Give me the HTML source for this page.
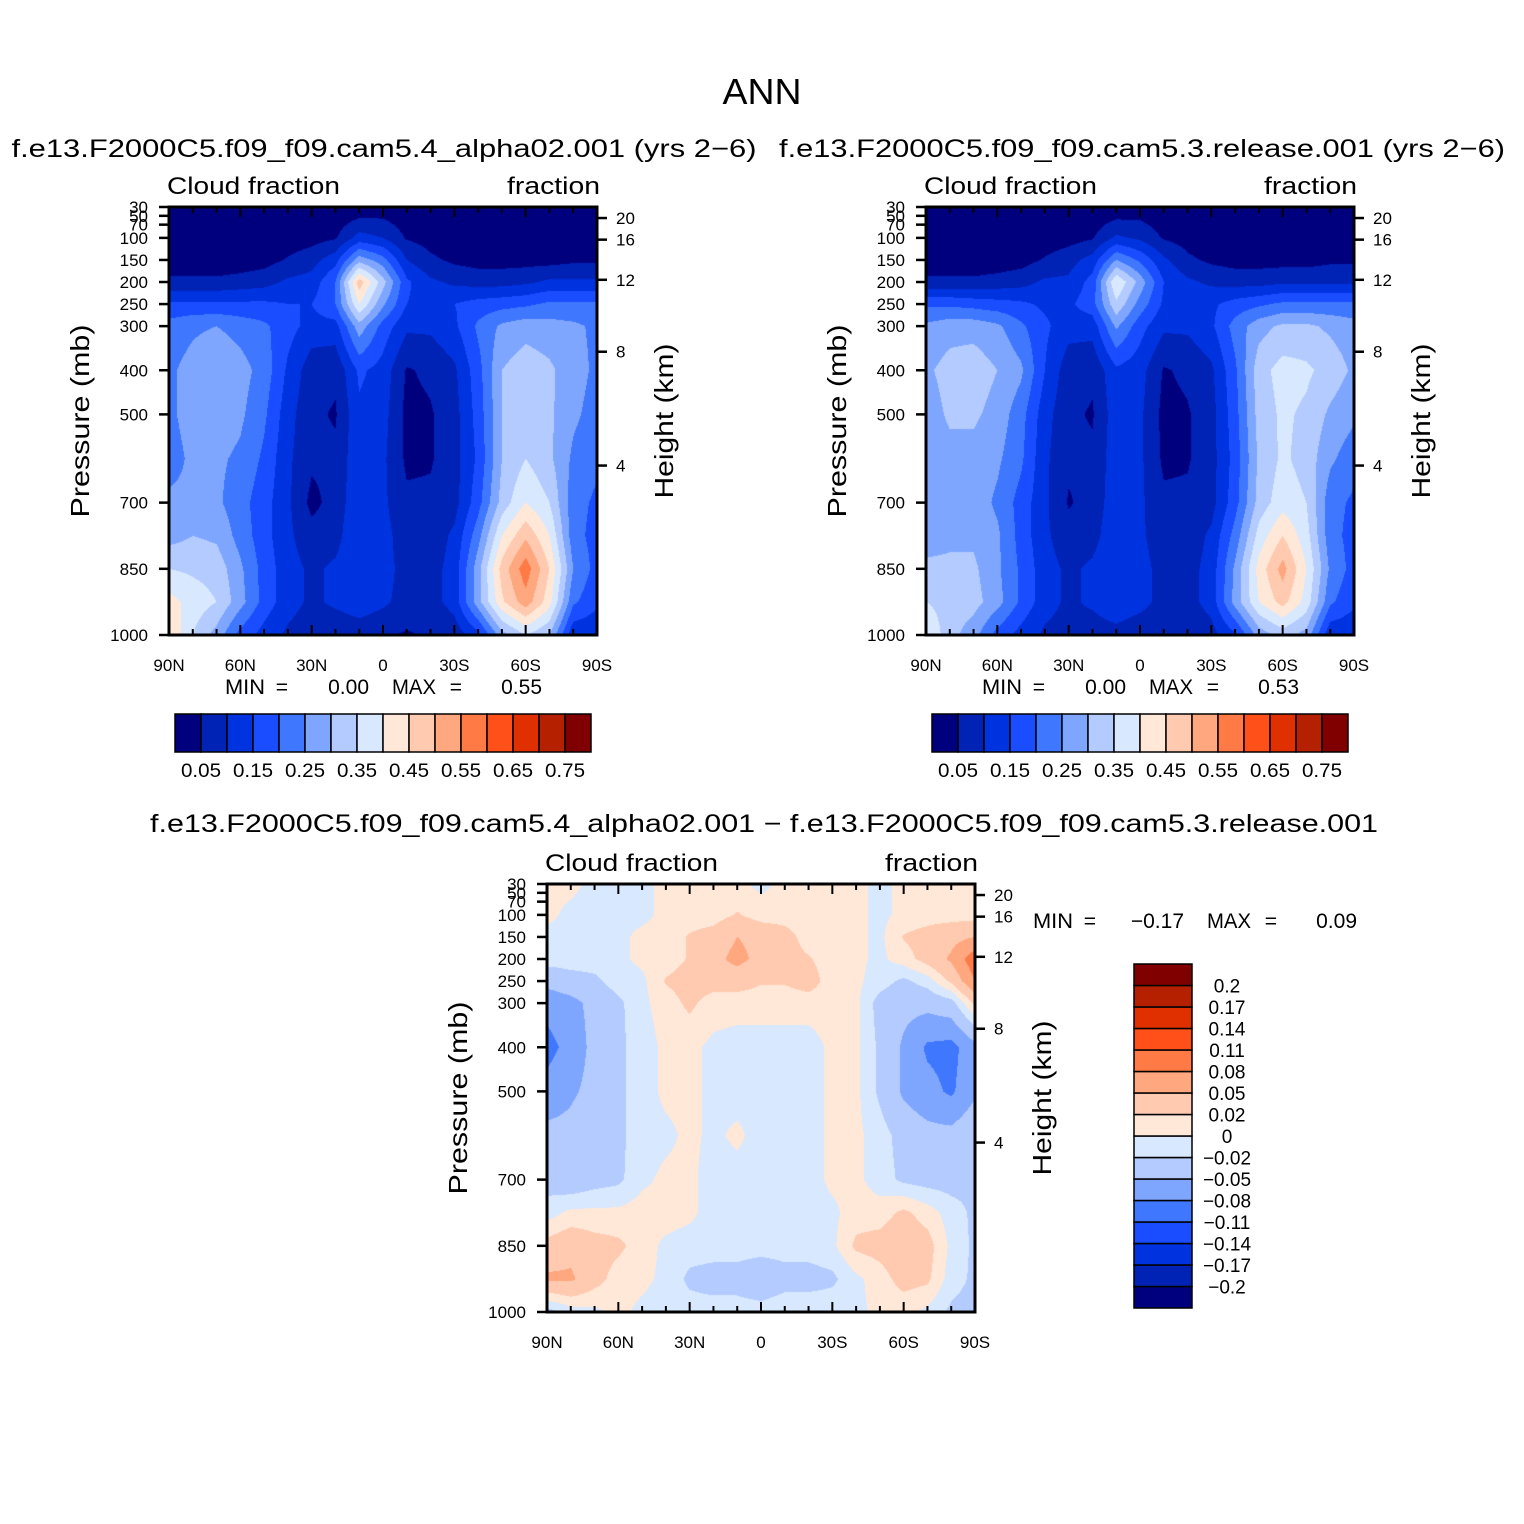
<!DOCTYPE html>
<html><head><meta charset="utf-8"><style>
html,body{margin:0;padding:0;background:#fff;}
#wrap{position:relative;width:1524px;height:1524px;overflow:hidden;font-family:"Liberation Sans",sans-serif;}
canvas{position:absolute;}
svg{position:absolute;left:0;top:0;}
</style></head><body>
<div id="wrap">
<canvas id="c1" width="428" height="428" style="left:169px;top:207px"></canvas>
<canvas id="c2" width="428" height="428" style="left:926px;top:207px"></canvas>
<canvas id="c3" width="428" height="428" style="left:547px;top:884px"></canvas>
<svg id="ov" width="1524" height="1524"></svg>
</div>
<script>
const lats=[90,80,70,60,50,40,30,20,10,0,-10,-20,-30,-40,-50,-60,-70,-80,-90];
const pres=[30,100,150,200,250,300,400,500,600,700,775,850,925,1000];
const cloudLevels=[0.05,0.1,0.15,0.2,0.25,0.3,0.35,0.4,0.45,0.5,0.55,0.6,0.65,0.7,0.75];
const cloudLabels=["0.05","0.15","0.25","0.35","0.45","0.55","0.65","0.75"];
const diffLevels=[-0.2,-0.17,-0.14,-0.11,-0.08,-0.05,-0.02,0,0.02,0.05,0.08,0.11,0.14,0.17,0.2];
const diffLabels=["-0.2","-0.17","-0.14","-0.11","-0.08","-0.05","-0.02","0","0.02","0.05","0.08","0.11","0.14","0.17","0.2"];
const colors=["#00007f","#0022b5","#0033e0","#1a4dff","#4077ff","#7fa6ff","#b3cbff","#d8e8ff","#ffe8d8","#ffcab0","#ffa77f","#ff7a45","#ff501a","#e03000","#b52000","#800000"];
const pressureTicks=[30,50,70,100,150,200,250,300,400,500,700,850,1000];
const heightTicks=[20,16,12,8,4];
const heightTickPres=[55,104,195,358,616];
const cloudA=[
[.01,.01,.01,.01,.01,.01,.01,.01,.01,.02,.01,.01,.01,.01,.01,.01,.01,.01,.01],
[.01,.01,.01,.01,.01,.02,.03,.045,.12,.10,.045,.03,.02,.01,.01,.01,.01,.01,.01],
[.02,.02,.02,.02,.03,.055,.08,.13,.28,.22,.10,.06,.04,.03,.03,.03,.03,.04,.04],
[.06,.06,.06,.07,.08,.11,.12,.20,.48,.32,.16,.11,.09,.08,.08,.09,.11,.11,.11],
[.16,.16,.16,.16,.16,.15,.15,.20,.40,.26,.15,.13,.15,.17,.18,.19,.21,.21,.21],
[.22,.24,.25,.23,.21,.17,.13,.13,.28,.18,.11,.11,.14,.21,.26,.28,.27,.26,.24],
[.24,.27,.30,.27,.23,.14,.07,.06,.16,.13,.045,.06,.09,.18,.30,.33,.31,.27,.24],
[.24,.27,.28,.26,.21,.12,.06,.045,.14,.12,.035,.045,.08,.17,.30,.34,.31,.26,.23],
[.23,.26,.26,.24,.19,.11,.06,.06,.14,.11,.04,.045,.08,.16,.30,.35,.31,.24,.21],
[.26,.26,.26,.22,.17,.11,.035,.07,.14,.11,.06,.06,.08,.18,.32,.40,.35,.22,.19],
[.28,.30,.29,.23,.17,.11,.07,.08,.15,.12,.07,.07,.11,.23,.40,.49,.40,.22,.18],
[.35,.34,.33,.26,.18,.12,.09,.11,.15,.12,.08,.08,.12,.28,.47,.58,.45,.25,.18],
[.42,.38,.35,.27,.18,.12,.09,.11,.13,.11,.08,.08,.12,.28,.44,.53,.42,.21,.16],
[.45,.35,.28,.18,.13,.09,.07,.06,.07,.055,.045,.055,.07,.13,.28,.35,.30,.11,.11]];
const cloudB=[
[.01,.01,.01,.01,.01,.01,.01,.01,.01,.02,.01,.01,.01,.01,.01,.01,.01,.01,.01],
[.01,.01,.01,.01,.01,.02,.03,.045,.11,.09,.045,.03,.02,.01,.01,.01,.01,.01,.01],
[.02,.02,.02,.02,.03,.055,.08,.12,.25,.19,.11,.06,.04,.03,.03,.03,.03,.04,.04],
[.06,.06,.06,.07,.08,.11,.11,.17,.40,.28,.15,.11,.09,.08,.08,.09,.09,.09,.09],
[.19,.19,.18,.17,.16,.14,.14,.18,.34,.23,.14,.12,.14,.17,.19,.21,.21,.21,.21],
[.26,.28,.28,.26,.21,.16,.12,.12,.26,.17,.11,.11,.14,.22,.28,.31,.31,.29,.27],
[.29,.32,.33,.30,.26,.15,.07,.06,.14,.12,.045,.06,.09,.19,.33,.37,.36,.33,.29],
[.27,.31,.31,.28,.22,.12,.06,.045,.13,.11,.035,.045,.08,.18,.32,.36,.34,.29,.26],
[.26,.28,.28,.26,.21,.11,.06,.06,.13,.11,.04,.045,.08,.17,.31,.36,.33,.26,.22],
[.26,.28,.28,.24,.18,.11,.045,.07,.13,.11,.06,.06,.08,.18,.32,.38,.35,.22,.19],
[.28,.29,.29,.26,.18,.11,.07,.08,.14,.11,.07,.07,.11,.22,.37,.45,.37,.22,.18],
[.31,.31,.31,.26,.19,.12,.09,.11,.15,.12,.08,.08,.12,.26,.42,.52,.40,.24,.18],
[.35,.33,.32,.27,.19,.12,.09,.11,.14,.12,.08,.08,.12,.27,.40,.47,.38,.21,.16],
[.40,.32,.27,.18,.13,.09,.08,.07,.08,.06,.055,.06,.08,.14,.27,.32,.28,.11,.11]];
const diffD=[
[.005,.005,-.005,-.005,-.005,.005,.005,.005,.005,-.005,.005,.005,.005,.005,-.005,.005,.005,.005,.005],
[.005,-.005,-.01,-.005,-.005,.005,.01,.01,.022,.01,.01,.005,.005,.005,-.005,.005,.01,.01,.01],
[-.005,-.01,-.01,-.005,.005,.01,.022,.03,.05,.04,.03,.01,.005,.005,-.005,.022,.03,.04,.05],
[-.01,-.01,-.01,-.005,.005,.01,.022,.04,.06,.04,.03,.022,.01,.005,-.005,.01,.03,.055,.1],
[-.04,-.03,-.025,-.01,-.005,.022,.03,.03,.03,.022,.022,.03,.01,.005,-.01,-.025,-.01,.025,.08],
[-.07,-.06,-.04,-.025,-.005,.01,.025,.01,.01,.01,.01,.01,.01,.005,-.03,-.04,-.04,-.03,.025],
[-.09,-.07,-.04,-.025,-.01,.005,.005,-.005,-.01,-.01,-.01,-.01,.005,.005,-.025,-.055,-.085,-.09,-.06],
[-.07,-.055,-.04,-.025,-.01,.005,.005,-.005,-.01,-.01,-.01,-.01,.005,.005,-.025,-.055,-.07,-.085,-.055],
[-.04,-.04,-.03,-.025,-.01,-.005,.005,-.005,.005,-.01,-.01,-.01,.005,.005,-.01,-.03,-.04,-.04,-.025],
[-.03,-.04,-.03,-.025,-.005,.005,.005,-.01,-.01,-.01,-.01,-.01,.005,.005,-.01,-.025,-.03,-.03,-.025],
[-.01,.005,.005,.005,.01,.01,.005,-.01,-.01,-.01,-.01,-.01,-.005,.01,.01,.025,.01,-.01,-.025],
[.03,.04,.03,.025,.01,-.005,-.01,-.01,-.01,-.01,-.01,-.01,-.005,.025,.03,.04,.03,-.005,-.025],
[.055,.055,.03,.01,.005,-.005,-.025,-.03,-.03,-.04,-.03,-.03,-.025,-.005,.01,.03,.025,-.01,-.025],
[-.03,-.01,-.005,.005,-.005,-.01,-.01,-.01,-.01,-.01,-.005,-.005,-.005,-.005,.005,.005,-.005,-.025,-.03]];

function levelIdx(v,lv){let i=0;while(i<lv.length&&v>=lv[i]-1e-9)i++;return i;}
function hex(h){return [parseInt(h.substr(1,2),16),parseInt(h.substr(3,2),16),parseInt(h.substr(5,2),16)];}
const rgb=colors.map(hex);
function drawField(id,grid,lv){
  const cv=document.getElementById(id),ctx=cv.getContext('2d');
  const W=428,H=428,img=ctx.createImageData(W,H);
  for(let y=0;y<H;y++){
    const p=30+(y+0.5)/H*970;
    let j=0;while(j<pres.length-2&&p>pres[j+1])j++;
    const tp=Math.min(1,Math.max(0,(p-pres[j])/(pres[j+1]-pres[j])));
    for(let x=0;x<W;x++){
      const lat=90-(x+0.5)/W*180;
      let i=0;while(i<lats.length-2&&lat<lats[i+1])i++;
      const tl=(lats[i]-lat)/(lats[i]-lats[i+1]);
      const v=(grid[j][i]*(1-tl)+grid[j][i+1]*tl)*(1-tp)+(grid[j+1][i]*(1-tl)+grid[j+1][i+1]*tl)*tp;
      const c=rgb[levelIdx(v,lv)],k=(y*W+x)*4;
      img.data[k]=c[0];img.data[k+1]=c[1];img.data[k+2]=c[2];img.data[k+3]=255;
    }
  }
  ctx.putImageData(img,0,0);
}
drawField('c1',cloudA,cloudLevels);
drawField('c2',cloudB,cloudLevels);
drawField('c3',diffD,diffLevels);

const NS="http://www.w3.org/2000/svg",ov=document.getElementById('ov');
function el(tag,attrs,parent){const e=document.createElementNS(NS,tag);for(const k in attrs)e.setAttribute(k,attrs[k]);(parent||ov).appendChild(e);return e;}
function txt(x,y,s,size,anchor,name,parent,len){
  const t=el('text',{x:x,y:y,'font-size':size,'text-anchor':anchor||'middle','font-family':'Liberation Sans, sans-serif',fill:'#000'},parent);
  if(len){t.setAttribute('textLength',len);t.setAttribute('lengthAdjust','spacingAndGlyphs');}
  t.textContent=s;
  
  
  return t;
}
function latName(l){return l===0?"0":(Math.abs(l)+(l>0?"N":"S"));}
function axes(x0,y0,name){
  const g=el('g',{});
  
  
  const py=p=>y0+(p-30)/970*428, lx=l=>x0+(90-l)/180*428;
  pressureTicks.forEach(p=>{
    el('line',{x1:x0-10,x2:x0,y1:py(p),y2:py(p),stroke:'#000','stroke-width':2.5},g);
    txt(x0-21,py(p)+6,String(p),17,'end','pressure-tick-label',g);
  });
  heightTicks.forEach((h,k)=>{
    const p=heightTickPres[k];
    el('line',{x1:x0+428,x2:x0+438,y1:py(p),y2:py(p),stroke:'#000','stroke-width':2.5},g);
    txt(x0+447,py(p)+6,String(h),17,'start','height-tick-label',g);
  });
  for(let l=90;l>=-90;l-=10){
    const major=l%30===0, len=major?10:6;
    el('line',{x1:lx(l),x2:lx(l),y1:y0+428,y2:y0+428-len,stroke:'#000','stroke-width':2},g);
    el('line',{x1:lx(l),x2:lx(l),y1:y0,y2:y0+len,stroke:'#000','stroke-width':2},g);
  }
  [90,60,30,0,-30,-60,-90].forEach(l=>txt(lx(l),y0+464,latName(l),17,'middle','latitude-tick-label',g));
  el('rect',{x:x0,y:y0,width:428,height:428,fill:'none',stroke:'#000','stroke-width':3},g);
  txt(x0-2,y0-13,"Cloud  fraction",24,'start','panel-left-title',g,173);
  txt(x0+431,y0-13,"fraction",24,'end','panel-right-title',g,93);
  const t1=txt(0,0,"Pressure  (mb)",26,'middle','y-axis-title',g,193);
  t1.setAttribute('transform',`translate(${x0-80},${y0+214}) rotate(-90)`);
  const t2=txt(0,0,"Height  (km)",26,'middle','y2-axis-title',g,155);
  t2.setAttribute('transform',`translate(${x0+504},${y0+214}) rotate(-90)`);
}
axes(169,207,'panel1');axes(926,207,'panel2');axes(547,884,'panel3');

txt(762,104,"ANN",36,'middle','figure-title',null,79);
txt(384,157,"f.e13.F2000C5.f09_f09.cam5.4_alpha02.001  (yrs  2\u22126)",25,'middle','panel1-title',null,745);
txt(1142,157,"f.e13.F2000C5.f09_f09.cam5.3.release.001  (yrs  2\u22126)",25,'middle','panel2-title',null,726);
txt(764,832,"f.e13.F2000C5.f09_f09.cam5.4_alpha02.001  \u2212  f.e13.F2000C5.f09_f09.cam5.3.release.001",25,'middle','panel3-title',null,1228);

function minmax(x0,y,minS,maxS,name,dx){
  const g=el('g',{});
  
  
  txt(x0,y,"MIN",21,'start','min-label',g,40);
  txt(x0+63,y,"=",21,'end','min-equals',g);
  txt(x0+144+dx,y,minS,21,'end','min-value',g);
  txt(x0+167+dx,y,"MAX",21,'start','max-label',g,44);
  txt(x0+237+dx,y,"=",21,'end','max-equals',g);
  txt(x0+317+dx,y,maxS,21,'end','max-value',g);
}
minmax(225,694,"0.00","0.55",'panel1-min-max',0);
minmax(982,694,"0.00","0.53",'panel2-min-max',0);
minmax(1033,928,"\u22120.17","0.09",'panel3-min-max',7);

function hbar(x0,y0,name){
  const g=el('g',{});
  
  
  const w=416/16;
  colors.forEach((c,i)=>el('rect',{x:x0+i*w,y:y0,width:w,height:38,fill:c,stroke:'#000','stroke-width':1.5},g));
  cloudLabels.forEach((s,k)=>txt(x0+(2*k+1)*w,y0+63,s,19,'middle','colorbar-label',g,40));
}
hbar(175,714,'panel1-colorbar');hbar(932,714,'panel2-colorbar');
(function(){
  const g=el('g',{});
  
  
  const h=344/16;
  colors.forEach((c,i)=>el('rect',{x:1134,y:964+(15-i)*h,width:58,height:h,fill:c,stroke:'#000','stroke-width':1.5},g));
  diffLabels.forEach((s,i)=>{
    const y=964+(15-i)*h;
    txt(1227,y+7,s.replace('-','\u2212'),19,'middle','colorbar-label',g);
  });
})();
</script>
</body></html>
